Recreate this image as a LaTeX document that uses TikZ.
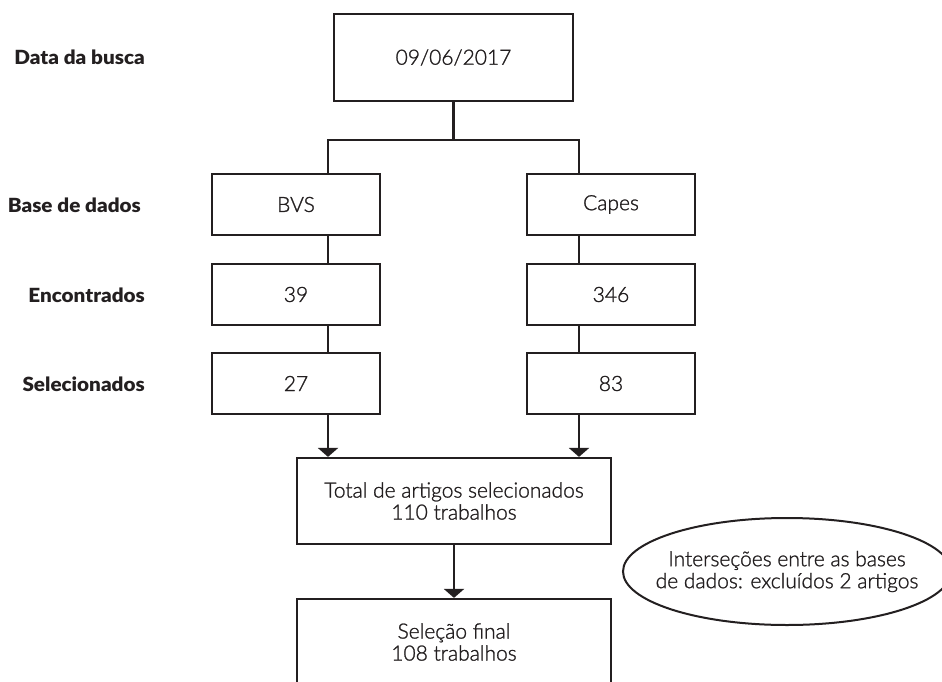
\documentclass[tikz,border=0pt]{standalone}
\usepackage{fontspec}
\IfFontExistsTF{Lato Light}
  {\newfontfamily\boxfont{Lato Light}[FakeBold=1.2]}
  {\newfontfamily\boxfont{Lato}[FakeStretch=1.2]}
\IfFontExistsTF{Lato Semibold}
  {\newfontfamily\labfont{Lato Semibold}[FakeStretch=1.06]}
  {\newfontfamily\labfont{Lato}[FakeStretch=1.06]}
\usetikzlibrary{arrows.meta,shapes.geometric}
\definecolor{ink}{HTML}{231F20}
\begin{document}
\begin{tikzpicture}[x=1pt,y=-1pt,
  txt/.style={text=ink,font=\boxfont\fontsize{21}{22}\selectfont},
  box/.style={draw=ink,line width=2.2pt,rectangle,inner sep=0pt,txt,align=center},
  sbox/.style={box,minimum width=168pt,minimum height=61pt},
  lab/.style={anchor=east,inner sep=0pt,text=ink,font=\labfont\fontsize{19.5}{22}\selectfont\bfseries},
  conn/.style={draw=ink,line width=2.2pt},
  arr/.style={conn,-{Triangle[width=20pt,length=9pt]}}]
\clip (0,0) rectangle (942,682);
\fill[white] (0,0) rectangle (942,682);
% boxes
\node[box,minimum width=239pt,minimum height=87pt] (top) at (453.5,57.5) {09/06/2017};
\node[sbox] (bvs) at (296,204.5) {BVS};
\node[sbox] (capes) at (611,204.5) {Capes};
\node[sbox] (enc1) at (296,294.5) {39};
\node[sbox] (enc2) at (611,294.5) {346};
\node[sbox] (sel1) at (296,383.5) {27};
\node[sbox] (sel2) at (611,383.5) {83};
\node[box,minimum width=314pt,minimum height=86pt] (total) at (454,501) {Total de artigos selecionados\\110 trabalhos};
\node[box,minimum width=314pt,minimum height=130pt] (final) at (454,664) {};
\node[txt,align=center,anchor=center] (finaltxt) at (454,642) {Seleção final\\108 trabalhos};
\node[draw=ink,line width=2pt,ellipse,minimum width=328pt,minimum height=107pt,inner sep=0pt] (inter) at (787,571.5) {};
\node[txt,align=center,inner sep=0pt] (intertxt) at (inter.center) {Interseções entre as bases\\de dados: excluídos 2 artigos};
% labels
\node[lab] (l1) at (145,57) {Data da busca};
\node[lab] (l2) at (141,205) {Base de dados};
\node[lab] (l3) at (145,295) {Encontrados};
\node[lab] (l4) at (145,384) {Selecionados};
% connectors
\coordinate (j) at (453.5,140);
\coordinate (xl) at (328,0);
\coordinate (xr) at (579,0);
\draw[conn] (top.south) -- (j);
\draw[conn] (xl|-bvs.north) -- (xl|-j) -- (xr|-j) -- (xr|-capes.north);
\draw[conn] (xl|-bvs.south) -- (xl|-enc1.north);
\draw[conn] (xr|-capes.south) -- (xr|-enc2.north);
\draw[conn] (xl|-enc1.south) -- (xl|-sel1.north);
\draw[conn] (xr|-enc2.south) -- (xr|-sel2.north);
\draw[arr] (xl|-sel1.south) -- (xl|-total.north);
\draw[arr] (xr|-sel2.south) -- (xr|-total.north);
\draw[arr] (total.south) -- (final.north);
\end{tikzpicture}
\end{document}
